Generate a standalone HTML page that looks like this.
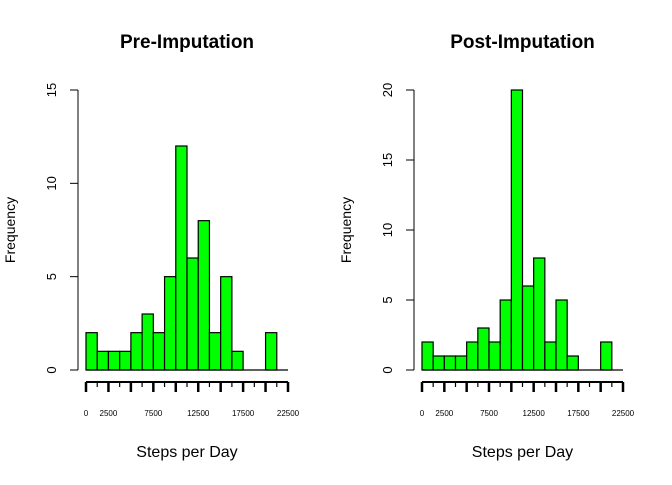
<!DOCTYPE html>
<html><head><meta charset="utf-8"><style>
body{margin:0;background:#fff}
text{font-family:"Liberation Sans",sans-serif}
</style></head><body>
<svg id="chart" width="672" height="480" xmlns="http://www.w3.org/2000/svg"></svg>
<script>
const binStarts = [0,1250,2500,3750,5000,6250,7500,8750,10000,11250,12500,13750,15000,16250,17500,18750,20000,21250];
const preCounts = [2,1,1,1,2,3,2,5,12,6,8,2,5,1,0,0,2,0];
const postCounts = [2,1,1,1,2,3,2,5,20,6,8,2,5,1,0,0,2,0];
const xTickLabels = [0,2500,7500,12500,17500,22500];
const preYTicks = [0,5,10,15];
const postYTicks = [0,5,10,15,20];
const binWidth = 1250;
const xMax = 22500;

const NS = "http://www.w3.org/2000/svg";
const svg = document.getElementById("chart");
function mk(tag, attrs, parent){const e=document.createElementNS(NS,tag);for(const k in attrs)e.setAttribute(k,attrs[k]);(parent||svg).appendChild(e);return e;}

function panel(x0, x1, yMaxVal, counts, yTicks, title, name){
  const g = mk("g",{});
  
  
  const y0 = 370, yTop = 90;
  const sx = v => x0 + v/xMax*(x1-x0);
  const sy = v => y0 - v/yMaxVal*(y0-yTop);
  counts.forEach((c,i)=>{
    if(c<=0) return;
    const r = mk("rect",{x:sx(binStarts[i]),y:sy(c),width:sx(binStarts[i]+binWidth)-sx(binStarts[i]),height:y0-sy(c),fill:"#00ff00",stroke:"#000","stroke-width":1.2},g);
    
    
  });
  const bl = mk("line",{x1:sx(0),y1:y0,x2:sx(xMax),y2:y0,stroke:"#000","stroke-width":1.2},g);
  
  
  const yax = mk("g",{},g);
  
  
  const ax = x0 - 8;
  mk("line",{x1:ax,y1:sy(yTicks[0]),x2:ax,y2:sy(yTicks[yTicks.length-1]),stroke:"#000","stroke-width":1},yax);
  yTicks.forEach(t=>{
    mk("line",{x1:ax-8,y1:sy(t),x2:ax,y2:sy(t),stroke:"#000"},yax);
    const tx = mk("text",{x:ax-22,y:sy(t),"font-size":13,"text-anchor":"middle",transform:`rotate(-90 ${ax-22} ${sy(t)})`,fill:"#000"},yax);
    tx.textContent=t;
    
    
  });
  const yt = mk("text",{x:x0-71,y:230,"font-size":14,"text-anchor":"middle",transform:`rotate(-90 ${x0-71} 230)`},g);
  yt.textContent="Frequency";
  
  
  const xax = mk("g",{},g);
  
  
  const ay = 382;
  mk("line",{x1:sx(0),y1:ay,x2:sx(xMax),y2:ay,stroke:"#000","stroke-width":2},xax);
  for(let v=0; v<=xMax; v+=binWidth){
    const major = v%2500===0;
    mk("line",{x1:sx(v),y1:ay,x2:sx(v),y2:ay+(major?10:5),stroke:"#000","stroke-width":major?2.5:1.2},xax);
  }
  xTickLabels.forEach(v=>{
    const tx = mk("text",{x:sx(v),y:416,"font-size":8,"text-anchor":"middle"},xax);
    tx.textContent=v;
    
    
  });
  const xt = mk("text",{x:(x0+x1)/2,y:457,"font-size":16,"text-anchor":"middle"},g);
  xt.textContent="Steps per Day";
  
  
  const tt = mk("text",{x:(x0+x1)/2,y:48,"font-size":19,"font-weight":"bold","text-anchor":"middle"},g);
  tt.textContent=title;
  
  
}
panel(86, 288, 15, preCounts, preYTicks, "Pre-Imputation", "pre-imputation-histogram");
panel(422, 623, 20, postCounts, postYTicks, "Post-Imputation", "post-imputation-histogram");
</script>
</body></html>
